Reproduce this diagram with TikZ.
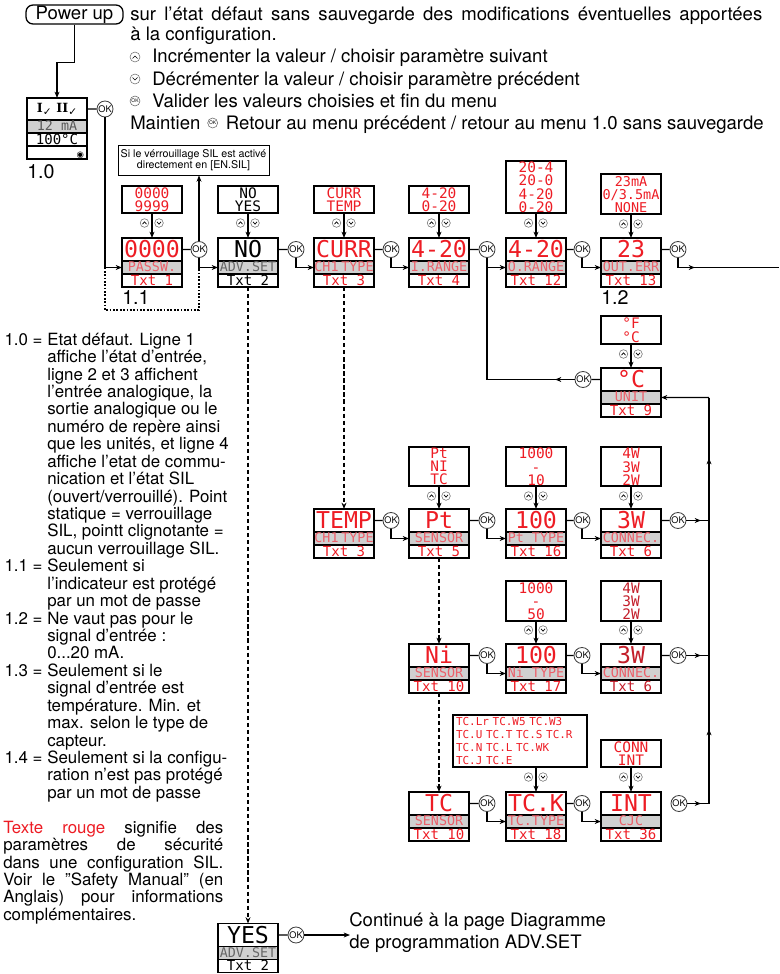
\documentclass[tikz,border=0pt]{standalone}
\usepackage{fontspec}
\setmainfont{TeX Gyre Heros}
\newfontfamily\lcdfont{DejaVu Sans Mono}
\newfontfamily\dejasym{DejaVu Sans}
\newfontfamily\serfont{DejaVu Serif}
\usepackage{tikz}
\usetikzlibrary{
    arrows.meta,
    positioning
}
\definecolor{lcdred}{RGB}{237,28,36}
\definecolor{lcddark}{RGB}{195,30,42}
\definecolor{lcdpink}{RGB}{236,96,106}
\definecolor{lcdgray}{RGB}{208,208,208}
\newcommand{\tightlines}{\lineskiplimit-20pt\relax}
\tikzset{
  dval/.style    = {draw, line width=1.1pt, minimum width=15mm, minimum height=5.75mm,
                    inner sep=0pt, outer sep=0pt, text height=12pt, text depth=0pt,
                    font=\lcdfont\fontsize{16.5}{16.5}\selectfont},
  dlab/.style    = {draw, line width=1.1pt, fill=lcdgray, minimum width=15mm,
                    minimum height=3.25mm, inner sep=0pt, outer sep=0pt,
                    text height=6.8pt, text depth=0.6pt,
                    font=\lcdfont\fontsize{9.5}{9.5}\selectfont},
  dtxt/.style    = {draw, line width=1.1pt, minimum width=15mm, minimum height=3.25mm,
                    inner sep=0pt, outer sep=0pt, text height=7.2pt, text depth=0.4pt,
                    font=\lcdfont\fontsize{10}{10}\selectfont},
  opts/.style    = {draw, line width=1.1pt, minimum width=15mm, inner sep=0pt, align=center,
                    anchor=south, font=\lcdfont\fontsize{10.3}{9.3}\selectfont},
  tclist/.style  = {draw, line width=1.1pt, anchor=south, text width=32mm, inner xsep=0.75mm,
                    inner ysep=0pt, minimum height=13mm, align=left,
                    font=\lcdfont\fontsize{7.8}{9.3}\selectfont},
  okbtn/.style   = {circle, draw=black!75, line width=0.6pt, fill=white, minimum size=4mm,
                    inner sep=0pt, font=\fontsize{6.5}{6.5}\selectfont},
  okmini/.style  = {circle, draw=black!60, line width=0.4pt, fill=white, minimum size=2.5mm,
                    inner sep=0pt, font=\fontsize{3.5}{3.5}\selectfont},
  icon/.style    = {draw=black!55, line width=0.4pt, fill=white},
  chev/.style    = {line width=0.5pt},
  link/.style    = {line width=0.8pt},
  arr/.style     = {-{Stealth[length=4.5pt,width=3.5pt]}, line width=0.8pt},
  dasharr/.style = {arr, line width=1pt, dash pattern=on 3pt off 2pt},
  bypass/.style  = {line width=1pt, dash pattern=on 1.2pt off 1.2pt},
  toptxt/.style  = {inner sep=0pt, font=\fontsize{13.2}{15}\selectfont},
  notes/.style   = {inner sep=0pt, align=left,
                    font=\fontsize{12}{12.4}\selectfont\tightlines},
  tag/.style     = {inner sep=0pt, anchor=west, font=\fontsize{14}{14}\selectfont},
  silbox/.style  = {draw, line width=0.6pt, minimum width=37.75mm, minimum height=7.5mm,
                    inner sep=0pt, align=center, font=\fontsize{7.6}{7.9}\selectfont},
  pwr/.style     = {draw, rounded corners=5pt, line width=0.9pt, minimum width=24.25mm,
                    minimum height=4.75mm, inner sep=0pt, font=\fontsize{13.2}{13.2}\selectfont}
}
\newcommand{\lcdbox}[7]{%
  \node[dval, text=#6, anchor=north] (#1) at (#2) {#3};
  \node[dlab, text=#7, below=0pt of #1] (#1-l) {#4};
  \node[dtxt, text=#6, below=0pt of #1-l] (#1-t) {#5};
}
\newcommand{\updown}[2]{%
  \draw[icon] (#1-7.5,#2) circle[radius=4.3];
  \draw[chev] (#1-9.5,#2+1.2) -- (#1-7.5,#2-1.2) -- (#1-5.5,#2+1.2);
  \draw[icon] (#1+7,#2) circle[radius=4.3];
  \draw[chev] (#1+5,#2-1.2) -- (#1+7,#2+1.2) -- (#1+9,#2-1.2);
}
\newcommand{\chk}{\raisebox{-2pt}{\dejasym\fontsize{7.5}{7.5}\selectfont ✓}}

\begin{document}
\begin{tikzpicture}[x=0.25mm, y=-0.25mm]
\useasboundingbox (0,0) rectangle (779,974);

\node[pwr] (pwr) at (74.5,14.5) {Power up};
\node[toptxt, anchor=base west] (l1) at (130,21) {\makebox[158mm][s]{sur l’état défaut sans sauvegarde des modifications éventuelles apportées}};
\node[toptxt, anchor=base west] (l2) at (130,41) {à la configuration.};
\node[toptxt, anchor=base west] (l3) at (152,63) {Incrémenter la valeur / choisir paramètre suivant};
\node[toptxt, anchor=base west] (l4) at (152,85) {Décrémenter la valeur / choisir paramètre précédent};
\node[toptxt, anchor=base west] (l5) at (152,107) {Valider les valeurs choisies et fin du menu};
\node[toptxt, anchor=base west] (l6) at (130,129) {Maintien};
\node[toptxt, anchor=base west] (l6b) at ([xshift=6.25mm]l6.base east) {Retour au menu précédent / retour au menu 1.0 sans sauvegarde};
\draw[icon] (135,57) circle[radius=5];
\draw[chev] (132.5,58.5) -- (135,56) -- (137.5,58.5);
\draw[icon] (135,79) circle[radius=5];
\draw[chev] (132.5,77.5) -- (135,80) -- (137.5,77.5);
\node[okmini] (okm1) at (135,101) {OK};
\node[okmini] (okm2) at ([xshift=3mm, yshift=1.5mm]l6.base east) {OK};

% 1.0
\node[draw, line width=1.1pt, minimum width=15mm, minimum height=5.5mm, inner sep=0pt, outer sep=0pt, anchor=north] (d10) at (57,98)
  {{\serfont\bfseries\fontsize{9}{9}\selectfont I\chk\hspace{1.2mm}II\chk}};
\node[dlab, text=black!65, below=0pt of d10] (d10-a) {12 mA};
\node[dtxt, below=0pt of d10-a] (d10-b) {100°C};
\node[dtxt, below=0pt of d10-b] (d10-c) {\makebox[13.5mm][r]{\dejasym\fontsize{6}{6}\selectfont ◉}};
\node[tag] (t10) at (27,172) {1.0};
\node[okbtn] (ok0) at (105,109) {OK};
\draw[arr] (pwr.south) -- ++(0,38) -| (d10.north);
\draw[link] (d10) -- (ok0);

% main row
\lcdbox{passw}{152,238}{0000}{PASSW.}{Txt 1}{lcdred}{lcdpink}
\lcdbox{adv}{248,238}{NO}{ADV.SET}{Txt 2}{black}{black!60}
\lcdbox{curr}{344,238}{CURR}{CH1\hspace{2pt}TYPE}{Txt 3}{lcdred}{lcdpink}
\lcdbox{irng}{439,238}{4-20}{I.RANGE}{Txt 4}{lcdred}{lcdpink}
\lcdbox{orng}{536,238}{4-20}{O.RANGE}{Txt 12}{lcdred}{lcdpink}
\lcdbox{oerr}{631,238}{23}{OUT.ERR}{Txt 13}{lcdred}{lcdpink}
\node[opts, text=lcdred, minimum height=6.75mm] (passw-o) at (152,214) {0000\\9999};
\node[opts, text=black, minimum height=6.75mm] (adv-o) at (248,214) {NO\\YES};
\node[opts, text=lcdred, minimum height=6.75mm] (curr-o) at (344,214) {CURR\\TEMP};
\node[opts, text=lcdred, minimum height=6.75mm] (irng-o) at (439,214) {4-20\\0-20};
\node[opts, text=lcdred, minimum height=13mm] (orng-o) at (536,214) {20-4\\20-0\\4-20\\0-20};
\node[opts, text=lcdred, minimum height=10mm, font=\lcdfont\fontsize{9.6}{9.3}\selectfont] (oerr-o) at (631,215) {23mA\\0/3.5mA\\NONE};
\draw[arr] (passw-o) -- (passw);
\draw[arr] (adv-o) -- (adv);
\draw[arr] (curr-o) -- (curr);
\draw[arr] (irng-o) -- (irng);
\draw[arr] (orng-o) -- (orng);
\draw[arr] (oerr-o) -- (oerr);
\updown{152}{223}
\updown{248}{223}
\updown{344}{223}
\updown{439}{223}
\updown{536}{223}
\updown{631}{224}
\node[tag] (t11) at (122,298) {1.1};
\node[tag] (t12) at (601,298) {1.2};
\node[silbox] (silnote) at (193.5,160) {Si le vérrouillage SIL est activé\\directement en [EN.SIL]};

\node[okbtn] (ok1) at (199,249.5) {OK};
\node[okbtn] (ok2) at (296,249.5) {OK};
\node[okbtn] (ok3) at (391,249.5) {OK};
\node[okbtn] (ok4) at (487,249.5) {OK};
\node[okbtn] (ok5) at (582,249.5) {OK};
\node[okbtn] (ok6) at (678,249.5) {OK};
\draw[arr] (ok0) |- (passw-l);
\coordinate (byA) at (105,267.5);
\coordinate (byB) at (199,267.5);
\draw[bypass] (byA) -- ++(0,42.5) -| (byB);
\draw[link] (passw) -- (ok1);
\draw[arr] (ok1) |- (adv-l);
\draw[arr] (ok1) -- (ok1 |- silnote.south);
\draw[link] (adv) -- (ok2);
\draw[arr] (ok2) |- (curr-l);
\draw[link] (curr) -- (ok3);
\draw[arr] (ok3) |- (irng-l);
\draw[link] (irng) -- (ok4);
\draw[arr] (ok4) |- (orng-l);
\draw[link] (orng) -- (ok5);
\draw[arr] (ok5) |- (oerr-l);
\draw[link] (oerr) -- (ok6);
\coordinate (exit) at (779,267.5);
\coordinate (exitarr) at (695,267.5);
\draw[link] (ok6) |- (exit);
\draw[arr] (ok6) |- (exitarr);

% unit
\lcdbox{unit}{631,368}{°C}{UNIT}{Txt 9}{lcdred}{lcdpink}
\node[opts, text=lcdred, minimum height=7mm] (unit-o) at (631,345) {°F\\°C};
\draw[arr] (unit-o) -- (unit);
\updown{631}{354}
\node[okbtn] (okU) at (583,379.5) {OK};
\draw[link] (unit) -- (okU);
\coordinate (ret) at (487,379.5);
\coordinate (retarr) at (555,379.5);
\draw[link] (okU) -- (ret) -- (ok4);
\draw[arr] (okU) -- (retarr);

% temperature rows
\lcdbox{temp}{344,509}{TEMP}{CH1\hspace{2pt}TYPE}{Txt 3}{lcdred}{lcdpink}
\lcdbox{sens}{439,509}{Pt}{SENSOR}{Txt 5}{lcdred}{lcdpink}
\lcdbox{ptty}{536,509}{100}{Pt TYPE}{Txt 16}{lcdred}{lcdpink}
\lcdbox{conA}{631,509}{3W}{CONNEC.}{Txt 6}{lcdred}{lcdpink}
\node[opts, text=lcdred, minimum height=9.75mm] (sens-o) at (439,487) {Pt\\NI\\TC};
\node[opts, text=lcdred, minimum height=9.75mm] (ptty-o) at (536,487) {1000\\-\\10};
\node[opts, text=lcdred, minimum height=9.75mm] (conA-o) at (631,487) {4W\\3W\\2W};
\draw[arr] (sens-o) -- (sens);
\draw[arr] (ptty-o) -- (ptty);
\draw[arr] (conA-o) -- (conA);
\updown{439}{496}
\updown{536}{496}
\updown{631}{496}
\node[okbtn] (okT1) at (391,520.5) {OK};
\node[okbtn] (okT2) at (487,520.5) {OK};
\node[okbtn] (okT3) at (582,520.5) {OK};
\node[okbtn] (okT4) at (678,520.5) {OK};
\draw[link] (temp) -- (okT1);
\draw[arr] (okT1) |- (sens-l);
\draw[link] (sens) -- (okT2);
\draw[arr] (okT2) |- (ptty-l);
\draw[link] (ptty) -- (okT3);
\draw[arr] (okT3) |- (conA-l);
\draw[link] (conA) -- (okT4);

\lcdbox{ni}{439,644}{Ni}{SENSOR}{Txt 10}{lcdred}{lcdpink}
\lcdbox{nity}{536,644}{100}{Ni TYPE}{Txt 17}{lcdred}{lcdpink}
\lcdbox{conB}{631,644}{3W}{CONNEC.}{Txt 6}{lcddark}{lcdpink}
\node[opts, text=lcdred, minimum height=10mm] (nity-o) at (536,622) {1000\\-\\50};
\node[opts, text=lcddark, minimum height=10mm] (conB-o) at (631,622) {4W\\3W\\2W};
\draw[arr] (nity-o) -- (nity);
\draw[arr] (conB-o) -- (conB);
\updown{536}{630}
\updown{631}{630}
\node[okbtn] (okN1) at (487,655.5) {OK};
\node[okbtn] (okN2) at (582,655.5) {OK};
\node[okbtn] (okN3) at (678,655.5) {OK};
\draw[link] (ni) -- (okN1);
\draw[arr] (okN1) |- (nity-l);
\draw[link] (nity) -- (okN2);
\draw[arr] (okN2) |- (conB-l);
\draw[link] (conB) -- (okN3);

\lcdbox{tc}{439,792}{TC}{SENSOR}{Txt 10}{lcdred}{lcdpink}
\lcdbox{tck}{536,792}{TC.K}{TC.TYPE}{Txt 18}{lcdred}{lcdpink}
\lcdbox{cjc}{631,792}{INT}{CJC}{Txt 36}{lcdred}{lcdpink}
\node[tclist, text=lcdred] (tck-o) at (520,768) {TC.Lr TC.W5 TC.W3\\TC.U TC.T TC.S TC.R\\TC.N TC.L TC.WK\\TC.J TC.E};
\node[opts, text=lcdred, minimum height=6.75mm] (cjc-o) at (631,768) {CONN\\INT};
\draw[arr] (tck-o.south -| tck.north) -- (tck.north);
\draw[arr] (cjc-o) -- (cjc);
\updown{536}{777}
\updown{631}{777}
\node[okbtn] (okC1) at (487,803.5) {OK};
\node[okbtn] (okC2) at (582,803.5) {OK};
\node[okbtn] (okC3) at (679,803.5) {OK};
\draw[link] (tc) -- (okC1);
\draw[arr] (okC1) |- (tck-l);
\draw[link] (tck) -- (okC2);
\draw[arr] (okC2) |- (cjc-l);

% return rail
\coordinate (railtop) at (709,397.5);
\coordinate (rail1) at (709,520.5);
\coordinate (rail2) at (709,655.5);
\coordinate (rail3) at (709,803.5);
\coordinate (rail1a) at (701,520.5);
\coordinate (rail2a) at (701,655.5);
\coordinate (rail3a) at (701,803.5);
\coordinate (railA) at (709,729);
\coordinate (railB) at (709,458);
\draw[link] (okT4) -- (rail1);
\draw[arr] (okT4) -- (rail1a);
\draw[link] (okN3) -- (rail2);
\draw[arr] (okN3) -- (rail2a);
\draw[link] (okC3) -- (rail3);
\draw[arr] (okC3) -- (rail3a);
\draw[link] (rail3) -- (railtop);
\draw[arr] (rail3) -- (railA);
\draw[arr] (rail1) -- (railB);
\draw[arr] (railtop) -- (unit-l);

% advanced set
\lcdbox{yes}{248,923.5}{YES}{ADV.SET}{Txt 2}{black}{black!60}
\node[okbtn] (okY) at (296,935) {OK};
\coordinate (cont) at (350,935);
\draw[link] (yes) -- (okY);
\draw[arr] (okY) -- (cont);
\node[toptxt, anchor=west, align=left, font=\fontsize{13.2}{15.6}\selectfont] (conttxt) at (349,933)
  {Continué à la page Diagramme\\de programmation ADV.SET};

\draw[dasharr] (adv-t) -- (yes);
\draw[dasharr] (curr-t) -- (temp);
\draw[dasharr] (sens-t) -- (ni);
\draw[dasharr] (ni-t) -- (tc);

% notes
\node[notes, anchor=north west] (notes) at (47,332.5) {%
\llap{1.0 =\ }Etat défaut. Ligne 1\\
affiche l’état d’entrée,\\
ligne 2 et 3 affichent\\
l’entrée analogique, la\\
sortie analogique ou le\\
numéro de repère ainsi\\
que les unités, et ligne 4\\
affiche l’etat de commu-\\
nication et l’état SIL\\
(ouvert/verrouillé). Point\\
statique = verrouillage\\
SIL, pointt clignotante =\\
aucun verrouillage SIL.\\
\llap{1.1 =\ }Seulement si\\
l’indicateur est protégé\\
par un mot de passe\\
\llap{1.2 =\ }Ne vaut pas pour le\\
signal d’entrée :\\
0...20 mA.\\
\llap{1.3 =\ }Seulement si le\\
signal d’entrée est\\
température. Min. et\\
max. selon le type de\\
capteur.\\
\llap{1.4 =\ }Seulement si la configu-\\
ration n’est pas protégé\\
par un mot de passe\\
\mbox{}\\
\hspace*{-11mm}\makebox[55mm][s]{\textcolor{lcdred}{Texte rouge} signifie des}\\
\hspace*{-11mm}\makebox[55mm][s]{paramètres de sécurité}\\
\hspace*{-11mm}\makebox[55mm][s]{dans une configuration SIL.}\\
\hspace*{-11mm}\makebox[55mm][s]{Voir le ”Safety Manual” (en}\\
\hspace*{-11mm}\makebox[55mm][s]{Anglais) pour informations}\\
\hspace*{-11mm}complémentaires.};
\end{tikzpicture}
\end{document}
